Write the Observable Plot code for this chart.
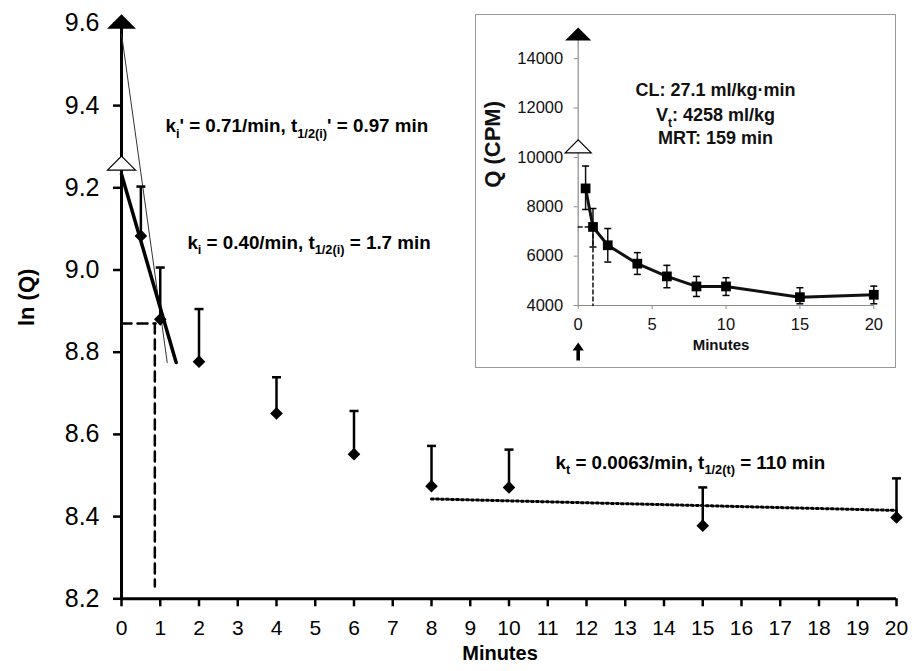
<!DOCTYPE html>
<html><head><meta charset="utf-8">
<script src="https://cdn.jsdelivr.net/npm/d3@7"></script>
<script src="https://cdn.jsdelivr.net/npm/@observablehq/plot@0.6"></script>
<style>
body{margin:0;background:#fff;}
#wrap{position:relative;width:913px;height:671px;font-family:"Liberation Sans",Arial,sans-serif;}
#inset{position:absolute;left:475px;top:14px;width:421px;height:354px;border:1px solid #9a9a9a;background:#fff;box-sizing:border-box;}
svg{display:block;}
</style></head><body><div id="wrap"><div id="main"></div><div id="inset"></div></div>
<script>
// ---- main panel data: ln(Q) vs minutes ----
const times = [0.5, 1, 2, 4, 6, 8, 10, 15, 20];
const lnQ = [9.083, 8.880, 8.777, 8.651, 8.552, 8.474, 8.471, 8.378, 8.398];
const lnQUpper = [9.203, 9.006, 8.905, 8.739, 8.657, 8.572, 8.563, 8.471, 8.493];
const xTicks = d3.range(0, 21);
const yTicks = [8.2, 8.4, 8.6, 8.8, 9.0, 9.2, 9.4, 9.6];
const interceptTime = [0];
const lnQFastIntercept = [9.6];
const lnQSlowIntercept = [9.26];
const fitSlowT = [0, 1.41], fitSlowLnQ = [9.233, 8.775];
const fitFastT = [0, 1.18], fitFastLnQ = [9.575, 8.775];
const terminalT = [8, 20], terminalLnQ = [8.443, 8.415];
const halfT = [0, 0.88], halfLnQ = [8.87, 8.87];
const halfVT = [0.86, 0.86], halfVLnQ = [8.87, 8.23];
const annText = ["k_{i}' = 0.71/min, t_{1/2(i)}' = 0.97 min", "k_{i} = 0.40/min, t_{1/2(i)} = 1.7 min", "k_{t} = 0.0063/min, t_{1/2(t)} = 110 min"];
const annT = [1.135, 1.70, 11.2];
const annLnQ = [9.35, 9.066, 8.531];

// ---- inset data: Q (CPM) vs minutes ----
const Q = [8744, 7183, 6440, 5695, 5179, 4772, 4772, 4337, 4435];
const QLow = [7890, 6370, 5760, 5260, 4720, 4366, 4407, 4069, 4069];
const QHigh = [9650, 7930, 7118, 6142, 5626, 5179, 5126, 4720, 4786];
const QFastIntercept = [15000];
const QSlowIntercept = [10450];
const insetXTicks = [0, 5, 10, 15, 20];
const insetYTicks = [4000, 6000, 8000, 10000, 12000, 14000];
const insetHalfVT = [1, 1], insetHalfVQ = [7183, 4000];
const insetHalfHT = [0, 1], insetHalfHQ = [7183, 7183];
const insetText = ["CL: 27.1 ml/kg·min", "V_{t}: 4258 ml/kg", "MRT: 159 min"];
const insetTextT = [9.29, 9.29, 9.29];
const insetTextQ = [12712, 11698, 10767];

const FONT = '"Liberation Sans", Arial, sans-serif';
const rOf = size => Math.sqrt(size / Math.PI);
const wideTriangle = {draw(ctx, size){ const r = rOf(size); const h = r * 0.5;
  ctx.moveTo(0, -h); ctx.lineTo(r, h); ctx.lineTo(-r, h); ctx.closePath(); }};
const capSymbol = {draw(ctx, size){ const r = rOf(size); ctx.moveTo(-r, 0); ctx.lineTo(r, 0); }};
const upArrow = {draw(ctx, size){ const r = rOf(size); const s = r / 8;
  ctx.moveTo(0, -8*s); ctx.lineTo(5*s, -1*s); ctx.lineTo(1.6*s, -1*s); ctx.lineTo(1.6*s, 8*s);
  ctx.lineTo(-1.6*s, 8*s); ctx.lineTo(-1.6*s, -1*s); ctx.lineTo(-5*s, -1*s); ctx.closePath(); }};

const mainRows = times.map((t, i) => ({t, v: lnQ[i], up: lnQUpper[i]}));
const pairs = (xs, ys) => xs.map((x, i) => ({x, y: ys[i]}));
const annRows = annText.map((s, i) => ({s, x: annT[i], y: annLnQ[i]}));

const main = Plot.plot({
  width: 913, height: 671, marginLeft: 121, marginRight: 17, marginTop: 22.9, marginBottom: 72.7,
  style: {fontFamily: FONT, background: "white", color: "black"},
  x: {domain: [0, 20]},
  y: {domain: [8.2, 9.6]},
  marks: [
    Plot.axisY({ticks: yTicks, tickFormat: d3.format(".1f"), tickSize: 8, tickPadding: 14, fontSize: 25, strokeWidth: 2.5, label: null}),
    Plot.axisX({ticks: xTicks, tickSize: 8, tickPadding: 13, fontSize: 21, strokeWidth: 2.5, label: null}),
    Plot.text(["Minutes"], {frameAnchor: "bottom", dy: 61, dx: -9, fontWeight: "bold", fontSize: 20}),
    Plot.text(["ln (Q)"], {frameAnchor: "left", rotate: -90, dx: -95, dy: 15, fontWeight: "bold", fontSize: 22}),
    Plot.ruleY([8.2], {x1: 0, x2: 20, strokeWidth: 3}),
    Plot.ruleX(interceptTime, {x: d => d, y1: 8.2, y2: lnQFastIntercept[0], strokeWidth: 3}),
    Plot.line(pairs(halfT, halfLnQ), {x: "x", y: "y", strokeWidth: 2.5, strokeDasharray: "10,6"}),
    Plot.line(pairs(halfVT, halfVLnQ), {x: "x", y: "y", strokeWidth: 2.5, strokeDasharray: "10,6"}),
    Plot.line(pairs(fitFastT, fitFastLnQ), {x: "x", y: "y", strokeWidth: 1, stroke: "#333"}),
    Plot.line(pairs(fitSlowT, fitSlowLnQ), {x: "x", y: "y", strokeWidth: 3.5}),
    Plot.line(pairs(terminalT, terminalLnQ), {x: "x", y: "y", strokeWidth: 3, strokeDasharray: "2,3"}),
    Plot.ruleX(mainRows, {x: "t", y1: "v", y2: "up", strokeWidth: 2.5}),
    Plot.dot(mainRows, {x: "t", y: "up", symbol: capSymbol, r: 4.5, stroke: "black", strokeWidth: 2.5}),
    Plot.dot(mainRows, {x: "t", y: "v", symbol: "diamond2", r: 5.7, fill: "black"}),
    Plot.dot(interceptTime, {x: d => d, y: lnQSlowIntercept, symbol: wideTriangle, r: 14, fill: "white", stroke: "black", strokeWidth: 1.2}),
    Plot.dot(interceptTime, {x: d => d, y: lnQFastIntercept, dy: -2, symbol: wideTriangle, r: 14.5, fill: "black"}),
    Plot.text(annRows, {x: "x", y: "y", text: "s", textAnchor: "start", fontWeight: "bold", fontSize: 18.8})
  ]
});
document.getElementById("main").appendChild(main);

const insetRows = times.map((t, i) => ({t, q: Q[i], lo: QLow[i], hi: QHigh[i]}));
const insetTextRows = insetText.map((s, i) => ({s, x: insetTextT[i], y: insetTextQ[i]}));
const GRAY = "#8c8c8c";
const inset = Plot.plot({
  width: 419, height: 352, marginLeft: 101.7, marginRight: 21.7, marginTop: 18.5, marginBottom: 62,
  style: {fontFamily: FONT, background: "white", color: "#111", overflow: "visible"},
  x: {domain: [0, 20]},
  y: {domain: [4000, 15000]},
  marks: [
    Plot.axisY({ticks: insetYTicks, tickFormat: d => String(d), tickSize: 4, tickPadding: 11, fontSize: 16.5, stroke: GRAY, strokeWidth: 1, label: null}),
    Plot.axisX({ticks: insetXTicks, tickFormat: d => String(d), tickSize: 4, tickPadding: 9, fontSize: 16.5, stroke: GRAY, strokeWidth: 1, label: null}),
    Plot.ruleY([4000], {x1: 0, x2: 20, stroke: GRAY, strokeWidth: 1.2}),
    Plot.ruleX([0], {y1: 4000, y2: QFastIntercept[0], stroke: GRAY, strokeWidth: 1.2}),
    Plot.text(["Minutes"], {frameAnchor: "bottom", dy: 44, dx: -5, fontWeight: "bold", fontSize: 15}),
    Plot.text(["Q (CPM)"], {frameAnchor: "left", rotate: -90, dx: -85, dy: 18, fontWeight: "bold", fontSize: 22}),
    Plot.line(pairs(insetHalfVT, insetHalfVQ), {x: "x", y: "y", strokeWidth: 1.5, strokeDasharray: "4,3"}),
    Plot.line(pairs(insetHalfHT, insetHalfHQ), {x: "x", y: "y", strokeWidth: 1.5, strokeDasharray: "4,3"}),
    Plot.ruleX(insetRows, {x: "t", y1: "lo", y2: "hi", strokeWidth: 1.5}),
    Plot.dot(insetRows, {x: "t", y: "lo", symbol: capSymbol, r: 3.5, stroke: "black", strokeWidth: 1.5}),
    Plot.dot(insetRows, {x: "t", y: "hi", symbol: capSymbol, r: 3.5, stroke: "black", strokeWidth: 1.5}),
    Plot.line(insetRows, {x: "t", y: "q", strokeWidth: 3}),
    Plot.dot(insetRows, {x: "t", y: "q", symbol: "square", r: 5.5, fill: "black"}),
    Plot.dot(interceptTime, {x: d => d, y: QSlowIntercept, symbol: wideTriangle, r: 13, fill: "white", stroke: "black", strokeWidth: 1.2}),
    Plot.dot(interceptTime, {x: d => d, y: QFastIntercept, symbol: wideTriangle, r: 13, fill: "black"}),
    Plot.dot(interceptTime, {x: d => d, y: 4000, dy: 46, symbol: upArrow, r: 9, fill: "black"}),
    Plot.text(insetTextRows, {x: "x", y: "y", text: "s", fontWeight: "bold", fontSize: 18, fill: "#111"})
  ]
});
document.getElementById("inset").appendChild(inset);

// rich-text subscripts for labels written as a_{b}
function subscriptify(svg){
  d3.select(svg).selectAll("text").each(function(){
    const el = this;
    const txt = el.textContent;
    if (!txt.includes("_{")) return;
    const fs = parseFloat(el.getAttribute("font-size") || getComputedStyle(el).fontSize) || 18;
    const shift = fs * 0.3;
    el.textContent = "";
    const parts = txt.split(/(_\{[^}]*\})/);
    let down = false;
    for (const p of parts) {
      if (!p) continue;
      const ts = document.createElementNS("http://www.w3.org/2000/svg", "tspan");
      if (p.startsWith("_{")) {
        ts.textContent = p.slice(2, -1);
        ts.setAttribute("font-size", (fs * 0.68).toFixed(1));
        ts.setAttribute("dy", shift.toFixed(1));
        down = true;
      } else {
        ts.textContent = p;
        if (down) { ts.setAttribute("dy", (-shift).toFixed(1)); down = false; }
      }
      el.appendChild(ts);
    }
  });
}
subscriptify(main);
subscriptify(inset);
</script></body></html>
